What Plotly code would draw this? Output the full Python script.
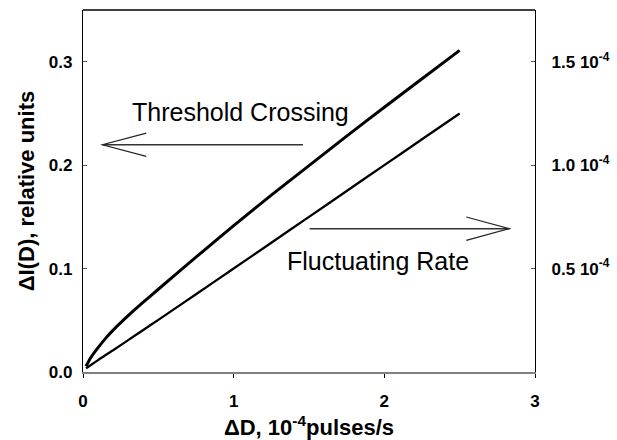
import plotly.graph_objects as go

# ---- data ----
x_vals = [0.02, 0.05, 0.1, 0.15, 0.2, 0.3, 0.4, 0.5, 0.75, 1.0, 1.25, 1.5, 1.75, 2.0, 2.25, 2.5]
threshold_crossing = [0.0055, 0.0135, 0.0235, 0.0325, 0.0405, 0.0545, 0.0675, 0.0800, 0.1110,
                      0.1415, 0.1710, 0.1995, 0.2280, 0.2560, 0.2835, 0.3110]
fluctuating_rate = [0.0035, 0.0065, 0.0115, 0.0165, 0.0210, 0.0308, 0.0406, 0.0504, 0.0752,
                    0.1000, 0.1250, 0.1500, 0.1750, 0.2000, 0.2250, 0.2500]

x_tickvals = [0, 1, 2, 3]
x_ticktext = ["0", "1", "2", "3"]
y_tickvals = [0.0, 0.1, 0.2, 0.3]
y_ticktext = ["0.0", "0.1", "0.2", "0.3"]
y2_tickvals = [0.5e-4, 1.0e-4, 1.5e-4]
y2_ticktext = ["0.5 10<sup>-4</sup>", "1.0 10<sup>-4</sup>", "1.5 10<sup>-4</sup>"]

label_threshold = "Threshold Crossing"
label_fluct = "Fluctuating Rate"

# ---- annotation geometry (data units) ----
left_arrow = dict(tip=(0.129, 0.2197), tail_x=1.46, head_x=0.42, half=0.0113)
right_arrow = dict(tip=(2.83, 0.1386), tail_x=1.504, head_x=2.544, half=0.0113)

FONT = "Liberation Sans"

fig = go.Figure()
fig.add_trace(go.Scatter(x=x_vals, y=threshold_crossing, mode="lines",
                         line=dict(color="black", width=3, shape="spline", smoothing=0.5),
                         showlegend=False))
fig.add_trace(go.Scatter(x=x_vals, y=fluctuating_rate, mode="lines",
                         line=dict(color="black", width=2.3, shape="spline", smoothing=0.5),
                         showlegend=False))
# invisible trace to activate right axis
fig.add_trace(go.Scatter(x=[None], y=[None], yaxis="y2", showlegend=False))


def arrow_path(a):
    tx, ty = a["tip"]
    return (f"M {a['head_x']} {ty + a['half']} L {tx} {ty} L {a['head_x']} {ty - a['half']}")


shapes = []
for a in (left_arrow, right_arrow):
    tx, ty = a["tip"]
    shapes.append(dict(type="line", xref="x", yref="y", x0=a["tail_x"], y0=ty, x1=tx, y1=ty,
                       line=dict(color="#333333", width=1.5)))
    shapes.append(dict(type="path", xref="x", yref="y", path=arrow_path(a),
                       line=dict(color="#222222", width=1.2)))
# top frame line
shapes.append(dict(type="line", xref="paper", yref="paper", x0=0, x1=1, y0=1, y1=1,
                   line=dict(color="black", width=1.3)))

tickfont = dict(family=FONT, size=17, color="black", weight="bold")
titlefont = dict(family=FONT, size=22, color="black", weight="bold")

fig.update_layout(
    width=617, height=440,
    margin=dict(l=83, r=82, t=10, b=68),
    paper_bgcolor="white", plot_bgcolor="white",
    font=dict(family=FONT, color="black"),
    shapes=shapes,
    xaxis=dict(range=[0, 3], tickvals=x_tickvals, ticktext=x_ticktext, automargin=False,
               ticks="outside", ticklen=4, tickcolor="black", tickwidth=1.3,
               showline=True, linecolor="#808080", linewidth=1.5,
               showgrid=False, zeroline=False, tickfont=tickfont, ticklabelstandoff=9,
               title=dict(text="ΔD, 10<sup>-4</sup>pulses/s", font=titlefont, standoff=10)),
    yaxis=dict(range=[0, 0.35], tickvals=y_tickvals, ticktext=y_ticktext, automargin=False,
               ticks="inside", ticklen=4, tickcolor="#555555", tickwidth=1.3,
               showline=True, linecolor="black", linewidth=1.3,
               showgrid=False, zeroline=False, tickfont=tickfont, ticklabelstandoff=6,
               title=dict(text="ΔI(D), relative units", font=titlefont, standoff=8)),
    yaxis2=dict(range=[0, 1.75e-4], overlaying="y", side="right", automargin=False,
                tickvals=y2_tickvals, ticktext=y2_ticktext,
                ticks="inside", ticklen=4, tickcolor="#555555", tickwidth=1.3,
                showline=True, linecolor="black", linewidth=1.3,
                showgrid=False, zeroline=False, tickfont=tickfont, ticklabelstandoff=12),
    annotations=[
        dict(x=1.043, y=0.2517, xref="x", yref="y", text=label_threshold, showarrow=False,
             xanchor="center", yanchor="middle",
             font=dict(family=FONT, size=25, color="black")),
        dict(x=1.958, y=0.1076, xref="x", yref="y", text=label_fluct, showarrow=False,
             xanchor="center", yanchor="middle",
             font=dict(family=FONT, size=25, color="black")),
    ],
)

fig.write_html("out.html")
